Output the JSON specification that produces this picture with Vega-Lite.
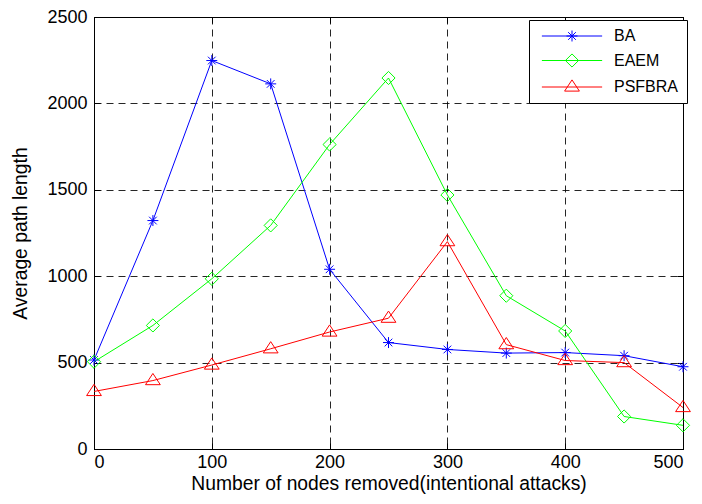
{
  "$schema": "https://vega.github.io/schema/vega-lite/v6.json",
  "width": 589,
  "height": 432,
  "padding": {"left": 94, "top": 17, "right": 19, "bottom": 55},
  "autosize": {"type": "none"},
  "background": "white",
  "config": {
    "font": "Liberation Sans",
    "view": {"stroke": "black", "strokeWidth": 1},
    "axis": {
      "labelFont": "Liberation Sans",
      "titleFont": "Liberation Sans",
      "labelFontSize": 18,
      "titleFontSize": 19.3,
      "titleFontWeight": "normal",
      "labelColor": "black",
      "titleColor": "black",
      "domainColor": "black",
      "tickColor": "black",
      "gridColor": "black",
      "gridDash": [7, 5],
      "gridOpacity": 0.85,
      "gridWidth": 1,
      "tickSize": -6
    }
  },
  "data": {
    "values": [
      {"x": 0, "y": 515, "series": "BA"},
      {"x": 50, "y": 1322, "series": "BA"},
      {"x": 100, "y": 2248, "series": "BA"},
      {"x": 150, "y": 2113, "series": "BA"},
      {"x": 200, "y": 1040, "series": "BA"},
      {"x": 250, "y": 616, "series": "BA"},
      {"x": 300, "y": 576, "series": "BA"},
      {"x": 350, "y": 555, "series": "BA"},
      {"x": 400, "y": 558, "series": "BA"},
      {"x": 450, "y": 540, "series": "BA"},
      {"x": 500, "y": 476, "series": "BA"},
      {"x": 0, "y": 505, "series": "EAEM"},
      {"x": 50, "y": 715, "series": "EAEM"},
      {"x": 100, "y": 985, "series": "EAEM"},
      {"x": 150, "y": 1294, "series": "EAEM"},
      {"x": 200, "y": 1762, "series": "EAEM"},
      {"x": 250, "y": 2147, "series": "EAEM"},
      {"x": 300, "y": 1470, "series": "EAEM"},
      {"x": 350, "y": 887, "series": "EAEM"},
      {"x": 400, "y": 683, "series": "EAEM"},
      {"x": 450, "y": 188, "series": "EAEM"},
      {"x": 500, "y": 137, "series": "EAEM"},
      {"x": 0, "y": 333, "series": "PSFBRA"},
      {"x": 50, "y": 396, "series": "PSFBRA"},
      {"x": 100, "y": 486, "series": "PSFBRA"},
      {"x": 150, "y": 580, "series": "PSFBRA"},
      {"x": 200, "y": 677, "series": "PSFBRA"},
      {"x": 250, "y": 757, "series": "PSFBRA"},
      {"x": 300, "y": 1200, "series": "PSFBRA"},
      {"x": 350, "y": 604, "series": "PSFBRA"},
      {"x": 400, "y": 512, "series": "PSFBRA"},
      {"x": 450, "y": 500, "series": "PSFBRA"},
      {"x": 500, "y": 240, "series": "PSFBRA"}
    ]
  },
  "resolve": {"axis": {"x": "independent", "y": "independent"}},
  "layer": [
    {
      "mark": {"type": "line", "strokeWidth": 1},
      "encoding": {
        "x": {
          "field": "x",
          "type": "quantitative",
          "scale": {"domain": [0, 500], "nice": false, "zero": false},
          "axis": {
            "title": "Number of nodes removed(intentional attacks)",
            "values": [0, 100, 200, 300, 400, 500],
            "labelPadding": 10,
            "titlePadding": 3
          }
        },
        "y": {
          "field": "y",
          "type": "quantitative",
          "scale": {"domain": [0, 2500], "nice": false},
          "axis": {
            "title": "Average path length",
            "values": [0, 500, 1000, 1500, 2000, 2500],
            "format": "d",
            "labelPadding": 13,
            "titlePadding": 16
          }
        },
        "color": {
          "field": "series",
          "type": "nominal",
          "scale": {"domain": ["BA", "EAEM", "PSFBRA"], "range": ["#0000ff", "#00ff00", "#ff0000"]},
          "legend": {
            "title": null,
            "orient": "none",
            "legendX": 435,
            "legendY": 3,
            "strokeColor": "black",
            "fillColor": "white",
            "padding": 8,
            "labelFontSize": 16,
            "labelFont": "Liberation Sans",
            "labelColor": "black",
            "symbolSize": 120,
            "symbolStrokeWidth": 1,
            "symbolOffset": 27,
            "rowPadding": 7.5,
            "labelOffset": 34,
            "encode": {
              "symbols": {
                "update": {
                  "shape": {"signal": "datum.value === 'BA' ? 'M-5.5,0L5.5,0M-1,0L1,0M0,-1L0,1M-0.7,-0.7L0.7,0.7M-0.7,0.7L0.7,-0.7' : datum.value === 'EAEM' ? 'M-5.5,0L5.5,0M0,-1.2L1.2,0L0,1.2L-1.2,0Z' : 'M-5.5,0L5.5,0M0,-1.3L1.35,0.75L-1.35,0.75Z'"},
                  "fill": {"value": "transparent"},
                  "strokeWidth": {"value": 1}
                }
              }
            }
          }
        }
      }
    },
    {
      "transform": [{"filter": "datum.series === 'BA'"}],
      "mark": {"type": "point", "filled": false, "strokeWidth": 1, "size": 120, "opacity": 1, "color": "#0000ff", "shape": "M-1,0L1,0M0,-1L0,1M-0.7,-0.7L0.7,0.7M-0.7,0.7L0.7,-0.7"},
      "encoding": {
        "x": {"field": "x", "type": "quantitative", "axis": null},
        "y": {"field": "y", "type": "quantitative", "axis": null}
      }
    },
    {
      "transform": [{"filter": "datum.series === 'EAEM'"}],
      "mark": {"type": "point", "filled": false, "strokeWidth": 1, "size": 120, "opacity": 1, "color": "#00ff00", "shape": "M0,-1.2L1.2,0L0,1.2L-1.2,0Z"},
      "encoding": {
        "x": {"field": "x", "type": "quantitative", "axis": null},
        "y": {"field": "y", "type": "quantitative", "axis": null}
      }
    },
    {
      "transform": [{"filter": "datum.series === 'PSFBRA'"}],
      "mark": {"type": "point", "filled": false, "strokeWidth": 1, "size": 120, "opacity": 1, "color": "#ff0000", "shape": "M0,-1.3L1.35,0.75L-1.35,0.75Z"},
      "encoding": {
        "x": {"field": "x", "type": "quantitative", "axis": null},
        "y": {"field": "y", "type": "quantitative", "axis": null}
      }
    },
    {
      "mark": {"type": "point", "opacity": 0},
      "encoding": {
        "x": {
          "field": "x",
          "type": "quantitative",
          "axis": {"orient": "top", "values": [0, 100, 200, 300, 400, 500], "labels": false, "title": null, "grid": false, "domain": false}
        },
        "y": {
          "field": "y",
          "type": "quantitative",
          "axis": {"orient": "right", "values": [0, 500, 1000, 1500, 2000, 2500], "labels": false, "title": null, "grid": false, "domain": false}
        }
      }
    }
  ]
}
